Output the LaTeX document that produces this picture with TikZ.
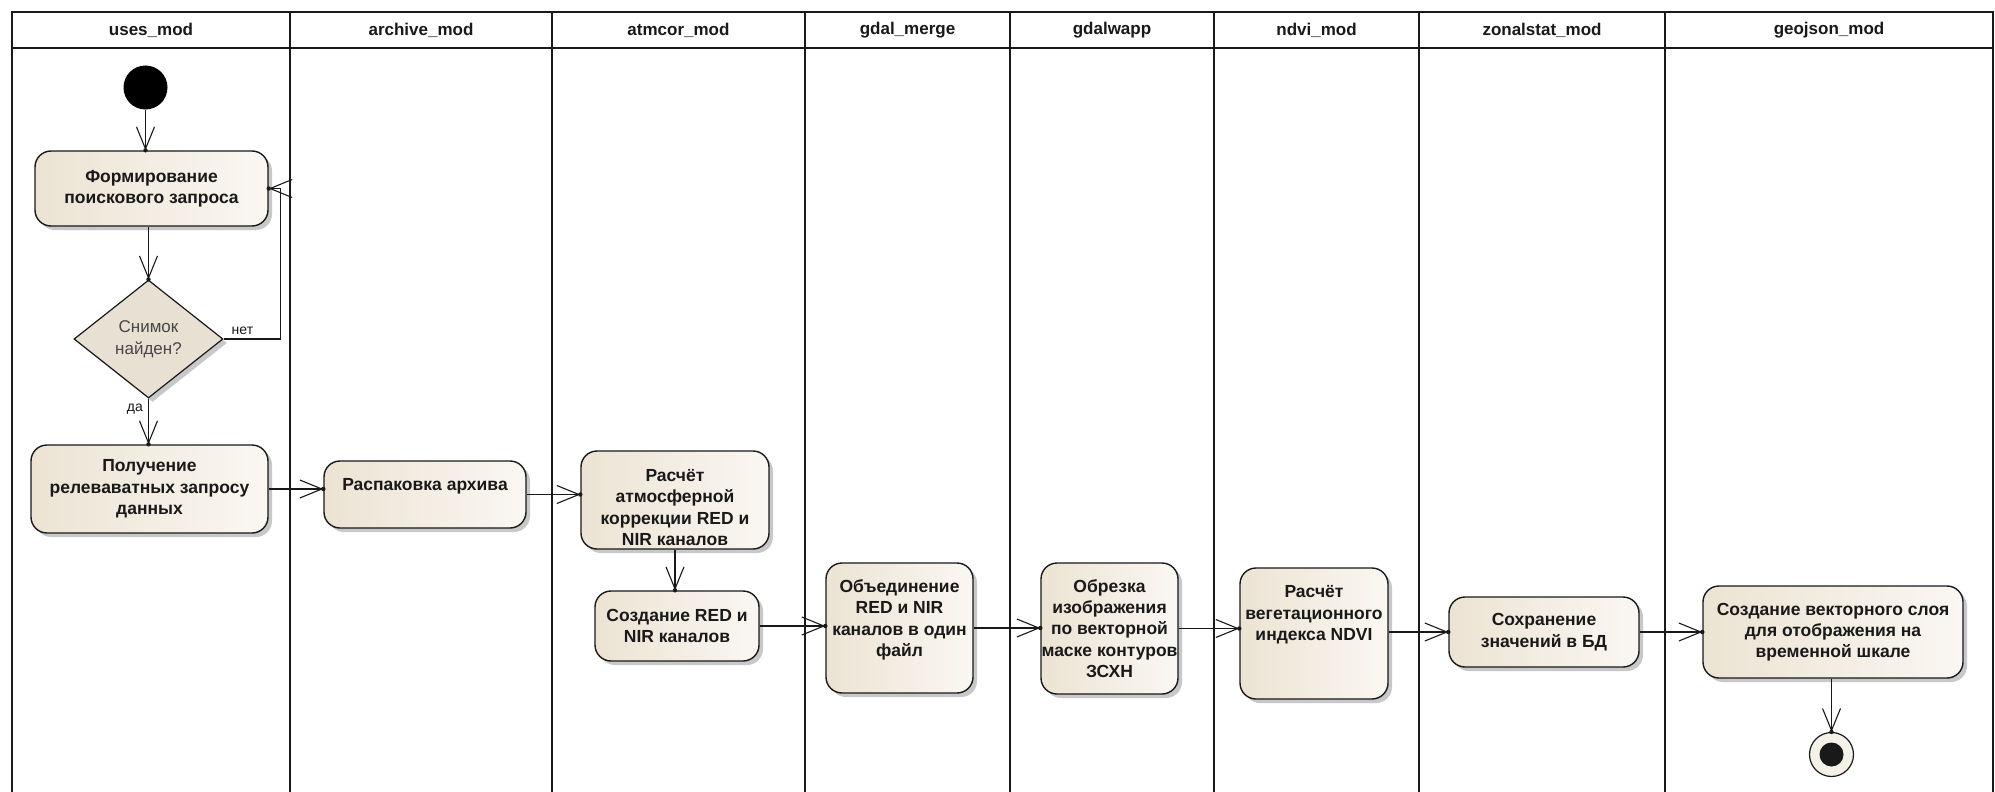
\documentclass[tikz,border=0pt]{standalone}
\usepackage{fontspec}
\setmainfont{Liberation Sans}
\usetikzlibrary{arrows.meta,shapes.geometric,shadows,decorations.markings}

\definecolor{ink}{RGB}{25,25,25}
\definecolor{actL}{RGB}{236,227,211}
\definecolor{actR}{RGB}{250,247,242}
\definecolor{decfill}{RGB}{232,224,210}
\definecolor{endfill}{RGB}{245,240,232}
\definecolor{dectext}{RGB}{70,70,70}

% invisible struts that push a node's text up or down inside its box
\newcommand{\padbelow}[1]{\rule[-#1]{0pt}{#1}}
\newcommand{\padabove}[1]{\rule{0pt}{#1}}

\begin{document}
\begin{tikzpicture}[x=1pt,y=-1pt,
  lane/.style={draw=ink, line width=1.6pt},
  lanehead/.style={font=\bfseries\fontsize{17}{20}\selectfont, text=ink, inner sep=0pt},
  activity/.style={draw=ink, line width=1.4pt, rounded corners=16pt,
    left color=actL, right color=actR,
    drop shadow={shadow xshift=4pt, shadow yshift=-4pt, opacity=0.3, fill=black!70},
    align=center, inner xsep=2pt, inner ysep=3pt, text=ink,
    font=\bfseries\fontsize{17.5}{21.3}\selectfont},
  decision/.style={diamond, aspect=1.26, draw=ink, line width=1.2pt, fill=decfill,
    drop shadow={shadow xshift=4pt, shadow yshift=-4pt, opacity=0.3, fill=black!70},
    minimum width=149pt, minimum height=118pt, inner sep=0pt, align=center,
    text=dectext, font=\fontsize{17}{21.6}\selectfont},
  startnode/.style={circle, fill=black, minimum size=44pt, inner sep=0pt},
  endnode/.style={circle, draw=ink, line width=1.2pt, fill=endfill, minimum size=44pt, inner sep=0pt},
  lbl/.style={font=\fontsize{14}{16}\selectfont, text=ink, inner sep=2pt},
  flow/.style={draw=ink, line width=1.3pt,
    -{Straight Barb[length=22pt,width=18pt,line width=1.1pt]},
    postaction={decorate, decoration={markings,
      mark=at position 1 with {\fill[ink] (0,0) circle (2.2pt);}}}}
]
\useasboundingbox (0,0) rectangle (1995,792);
\fill[white] (0,0) rectangle (1995,792);

% swimlane frame and header row
\draw[lane] (12,792) -- (12,12) -- (1993,12) -- (1993,792);
\draw[lane] (12,48) -- (1993,48);
\foreach \x in {290,552,805,1010,1214,1419,1665}
  \draw[lane] (\x,12) -- (\x,792);

\node[lanehead] (h1) at (151,30)    {uses\_mod};
\node[lanehead] (h2) at (421,30)    {archive\_mod};
\node[lanehead] (h3) at (678.5,30)  {atmcor\_mod};
\node[lanehead] (h4) at (907.5,30)  {gdal\_merge};
\node[lanehead] (h5) at (1112,30)   {gdalwapp};
\node[lanehead] (h6) at (1316.5,30) {ndvi\_mod};
\node[lanehead] (h7) at (1542,30)   {zonalstat\_mod};
\node[lanehead] (h8) at (1829,30)   {geojson\_mod};

% activities
\node[startnode] (init) at (145.5,87.5) {};
\node[activity, minimum width=233pt, minimum height=75pt] (form) at (151.5,188.5)
  {Формирование\\поискового запроса};
\node[decision] (dec) at (148.5,339) {Снимок\\найден?};
\node[activity, minimum width=237pt, minimum height=88pt] (poluch) at (149.5,489)
  {Получение\\релеваватных запросу\\данных};
\node[activity, minimum width=202pt, minimum height=67pt] (raspak) at (425,494.5)
  {Распаковка архива\padbelow{20pt}};
\node[activity, minimum width=188pt, minimum height=98pt] (atm) at (675,500)
  {\padabove{27pt}Расчёт\\атмосферной\\коррекции RED и\\NIR каналов};
\node[activity, minimum width=164pt, minimum height=70pt] (sozd) at (677,626)
  {Создание RED и\\NIR каналов};
\node[activity, minimum width=147pt, minimum height=130pt] (obed) at (899.5,628)
  {Объединение\\RED и NIR\\каналов в один\\файл\padbelow{20pt}};
\node[activity, minimum width=137pt, minimum height=131pt] (obrez) at (1109.5,628.5)
  {Обрезка\\изображения\\по векторной\\\makebox[0pt]{маске контуров}\\ЗСХН};
\node[activity, minimum width=148pt, minimum height=131pt] (ndvi) at (1314,633.5)
  {Расчёт\\вегетационного\\индекса NDVI\padbelow{41pt}};
\node[activity, minimum width=190pt, minimum height=70pt] (save) at (1544,632)
  {Сохранение\\значений в БД};
\node[activity, minimum width=260pt, minimum height=92pt] (vect) at (1833,632)
  {Создание векторного слоя\\для отображения на\\временной шкале};
\node[endnode] (final) at (1831.5,754.5) {};
\fill[ink] (final.center) circle (12pt);

% control flow
\draw[flow] (init) -- (init |- form.north);
\draw[flow] (form.south -| dec) -- (dec);
\draw[flow] (dec.east) -- node[lbl, above, pos=0.33, yshift=2pt] {нет}
  ([xshift=12pt]form.east |- dec.east) |- (form.east);
\draw[flow] (dec) -- node[lbl, left, pos=0.22, xshift=-3pt] {да} (dec |- poluch.north);
\draw[flow] (poluch) -- (poluch -| raspak.west);
\draw[flow] (raspak) -- (raspak -| atm.west);
\draw[flow] (atm) -- (atm |- sozd.north);
\draw[flow] (sozd) -- (sozd -| obed.west);
\draw[flow] (obed) -- (obed -| obrez.west);
\draw[flow] (obrez) -- (obrez -| ndvi.west);
\draw[flow] (ndvi.east |- save) -- (save);
\draw[flow] (save) -- (save -| vect.west);
\draw[flow] (vect.south -| final) -- (final);
\end{tikzpicture}
\end{document}
